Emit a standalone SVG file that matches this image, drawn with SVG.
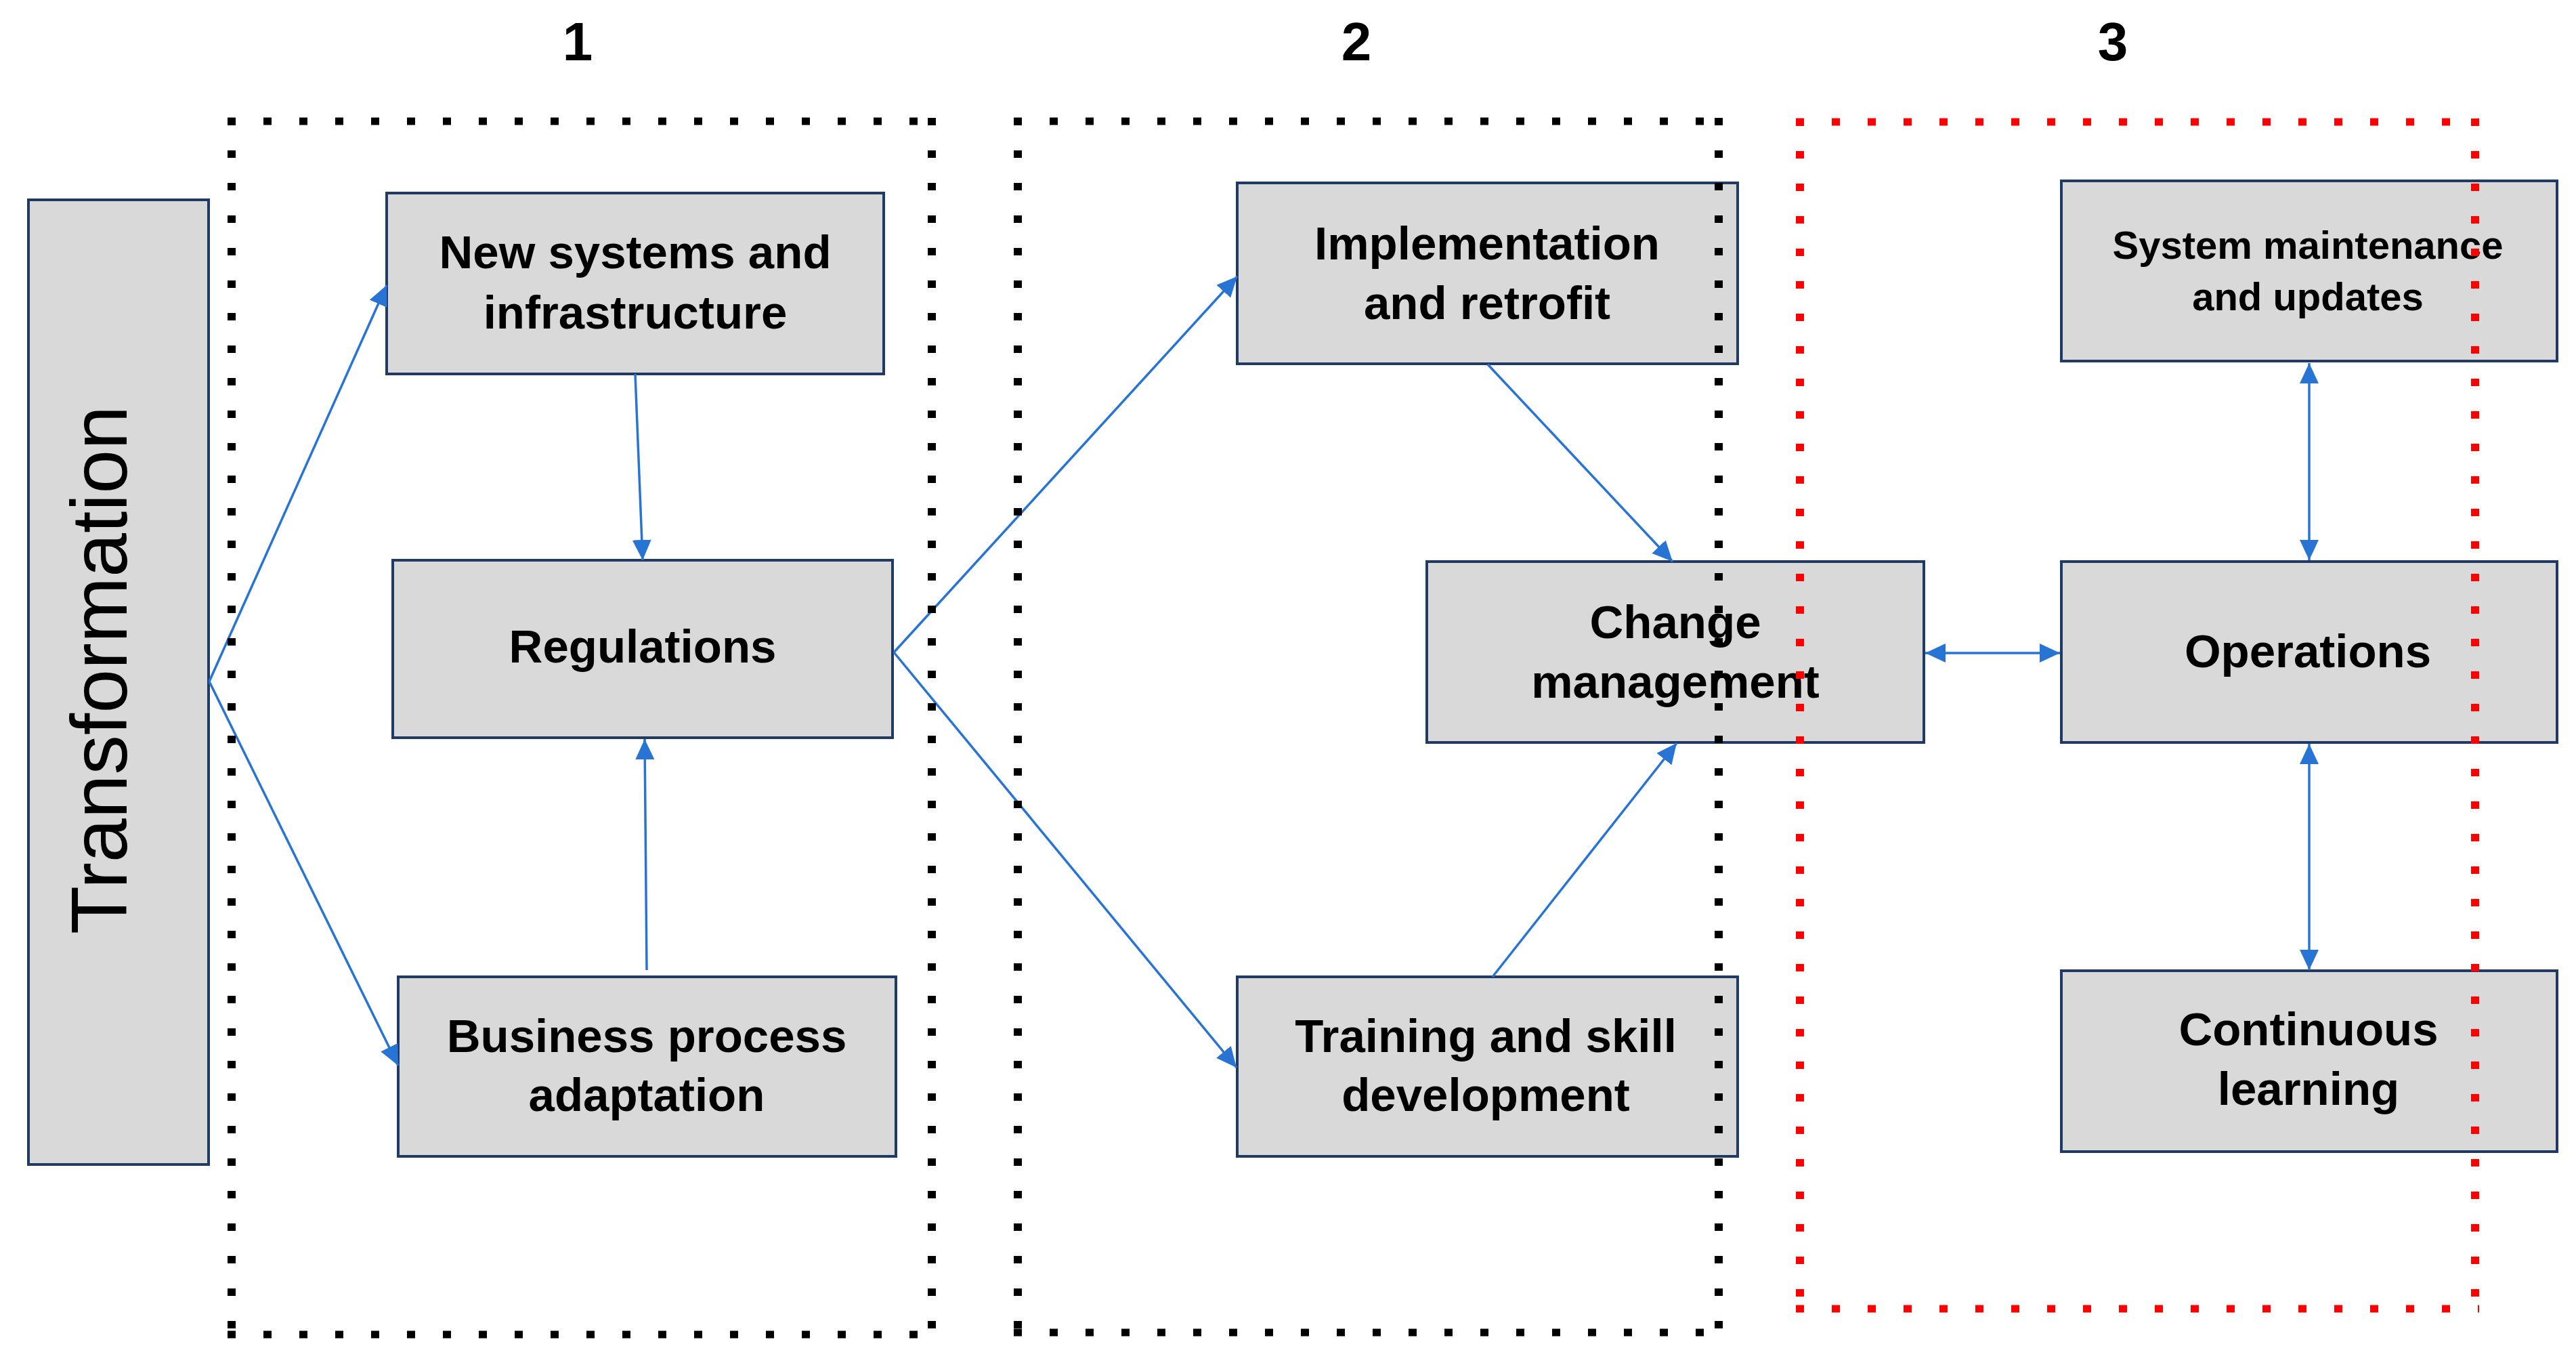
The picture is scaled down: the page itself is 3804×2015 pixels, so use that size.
<svg xmlns="http://www.w3.org/2000/svg" width="3804" height="2015" viewBox="0 0 3804 2015">
<style>
.node rect{fill:#D9D9D9;stroke:#203A66;stroke-width:4}
.lbl{font-family:"Liberation Sans",Arial,sans-serif;font-weight:bold;font-size:69px;fill:#000;text-anchor:middle}
.sm{font-size:58px}
.num{font-family:"Liberation Sans",Arial,sans-serif;font-weight:bold;font-size:80px;fill:#000;text-anchor:middle}
.big{font-family:"Liberation Sans",Arial,sans-serif;font-size:116px;fill:#000;text-anchor:middle}
.conn line{stroke:#2874D4;stroke-width:3.5;fill:none}
.dh{stroke-width:11;stroke-dasharray:12 41;fill:none}
.dv{stroke-width:12;stroke-dasharray:11 37;fill:none}
.blk{stroke:#000}
.red{stroke:#FF0000}
</style>
<defs>
<marker id="ah" markerUnits="userSpaceOnUse" markerWidth="32" markerHeight="28" refX="30" refY="14" orient="auto-start-reverse">
<path d="M0,0 L30,14 L0,28 Z" fill="#2874D4"/>
</marker>
</defs>
<rect x="0" y="0" width="3804" height="2015" fill="#FFFFFF"/>

<g id="headers">
<text class="num" x="853" y="89">1</text>
<text class="num" x="2003" y="89">2</text>
<text class="num" x="3120" y="89">3</text>
</g>

<g id="n-transformation" class="node">
<rect x="42" y="295" width="266" height="1424"/>
<text class="big" transform="translate(187,989) rotate(-90)" x="0" y="0" textLength="780" lengthAdjust="spacingAndGlyphs">Transformation</text>
</g>
<g id="n-newsystems" class="node">
<rect x="571" y="285" width="734" height="267"/>
<text class="lbl" x="938" y="396">New systems and</text>
<text class="lbl" x="938" y="485">infrastructure</text>
</g>
<g id="n-regulations" class="node">
<rect x="580" y="827" width="738" height="262"/>
<text class="lbl" x="949" y="978">Regulations</text>
</g>
<g id="n-business" class="node">
<rect x="588" y="1442" width="735" height="265"/>
<text class="lbl" x="955" y="1553">Business process</text>
<text class="lbl" x="955" y="1640">adaptation</text>
</g>
<g id="n-implementation" class="node">
<rect x="1827" y="270" width="739" height="267"/>
<text class="lbl" x="2196" y="383">Implementation</text>
<text class="lbl" x="2196" y="471">and retrofit</text>
</g>
<g id="n-change" class="node">
<rect x="2107" y="829" width="734" height="267"/>
<text class="lbl" x="2474" y="942">Change</text>
<text class="lbl" x="2474" y="1030">management</text>
</g>
<g id="n-training" class="node">
<rect x="1827" y="1442" width="739" height="265"/>
<text class="lbl" x="2194" y="1553">Training and skill</text>
<text class="lbl" x="2194" y="1640">development</text>
</g>
<g id="n-sysmaint" class="node">
<rect x="3044" y="267" width="732" height="266"/>
<text class="lbl sm" x="3408" y="382">System maintenance</text>
<text class="lbl sm" x="3408" y="458">and updates</text>
</g>
<g id="n-operations" class="node">
<rect x="3044" y="829" width="732" height="267"/>
<text class="lbl" x="3408" y="985">Operations</text>
</g>
<g id="n-continuous" class="node">
<rect x="3044" y="1433" width="732" height="267"/>
<text class="lbl" x="3409" y="1543">Continuous</text>
<text class="lbl" x="3409" y="1631">learning</text>
</g>

<g id="connectors" class="conn">
<line x1="309" y1="1006" x2="571" y2="421" marker-end="url(#ah)"/>
<line x1="309" y1="1006" x2="588" y2="1573" marker-end="url(#ah)"/>
<line x1="938" y1="552" x2="949" y2="827" marker-end="url(#ah)"/>
<line x1="955" y1="1432" x2="952" y2="1091" marker-end="url(#ah)"/>
<line x1="1320" y1="963" x2="1827" y2="408" marker-end="url(#ah)"/>
<line x1="1320" y1="963" x2="1826" y2="1576" marker-end="url(#ah)"/>
<line x1="2197" y1="538" x2="2470" y2="829" marker-end="url(#ah)"/>
<line x1="2204" y1="1442" x2="2476" y2="1097" marker-end="url(#ah)"/>
<line x1="2843" y1="964" x2="3042" y2="964" marker-start="url(#ah)" marker-end="url(#ah)"/>
<line x1="3410" y1="536" x2="3410" y2="827" marker-start="url(#ah)" marker-end="url(#ah)"/>
<line x1="3410" y1="1098" x2="3410" y2="1432" marker-start="url(#ah)" marker-end="url(#ah)"/>
</g>

<g id="group-1">
<line class="dh blk" x1="336" y1="179" x2="1382" y2="179"/>
<line class="dh blk" x1="336" y1="1970" x2="1382" y2="1970"/>
<line class="dv blk" x1="342" y1="174" x2="342" y2="1976"/>
<line class="dv blk" x1="1376" y1="174" x2="1376" y2="1976"/>
</g>
<g id="group-2">
<line class="dh blk" x1="1497" y1="179" x2="2544" y2="179"/>
<line class="dh blk" x1="1497" y1="1967" x2="2544" y2="1967"/>
<line class="dv blk" x1="1503" y1="174" x2="1503" y2="1973"/>
<line class="dv blk" x1="2538" y1="174" x2="2538" y2="1973"/>
</g>
<g id="group-3">
<line class="dh red" x1="2652" y1="180" x2="3661" y2="180"/>
<line class="dh red" x1="2652" y1="1932" x2="3661" y2="1932"/>
<line class="dv red" x1="2658" y1="175" x2="2658" y2="1938"/>
<line class="dv red" x1="3655" y1="175" x2="3655" y2="1938"/>
</g>
</svg>
